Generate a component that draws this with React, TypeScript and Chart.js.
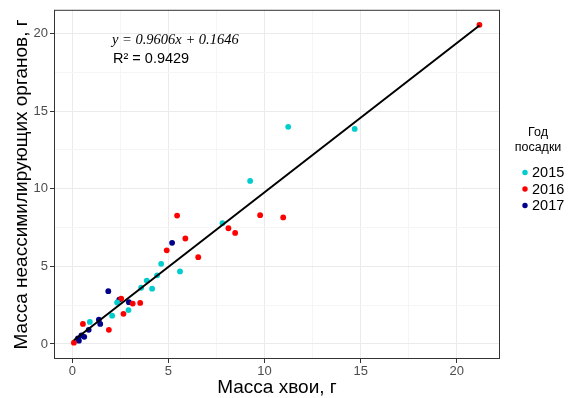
import React, { useEffect, useRef } from "react";
import { Chart, registerables } from "chart.js";
Chart.register(...registerables);

// ---- data ----
const x2015 = [11.23, 14.69, 9.25, 7.81, 4.62, 5.6, 4.41, 3.87, 3.58, 4.15, 2.33, 2.92, 2.07, 0.91];
const y2015 = [13.98, 13.85, 10.5, 7.78, 5.16, 4.67, 4.42, 4.08, 3.62, 3.56, 2.67, 2.18, 1.82, 1.42];

const x2016 = [21.18, 9.77, 10.97, 8.12, 8.47, 5.45, 5.88, 4.91, 6.55, 2.54, 3.14, 3.53, 2.66, 0.55, 1.9, 0.08];
const y2016 = [20.55, 8.29, 8.15, 7.45, 7.15, 8.27, 6.79, 6.03, 5.59, 2.92, 2.6, 2.64, 1.94, 1.29, 0.91, 0.08];

const x2017 = [5.19, 1.87, 2.44, 2.94, 1.38, 1.45, 0.85, 0.47, 0.62, 0.29, 0.34];
const y2017 = [6.51, 3.4, 2.86, 2.69, 1.56, 1.29, 0.91, 0.55, 0.46, 0.36, 0.21];

const fitX = [0.08, 21.18];
const fitY = [0.241, 20.51];

const xTicks = [0, 2.5, 5, 7.5, 10, 12.5, 15, 17.5, 20];
const yTicks = [0, 2.5, 5, 7.5, 10, 12.5, 15, 17.5, 20];

const seriesNames = ["2015", "2016", "2017"];
const seriesColors = ["#00CDCD", "#FF0000", "#00008B"];
const legendTitle = ["Год", "посадки"];
const xTitle = "Масса хвои, г";
const yTitle = "Масса неассимилирующих органов, г";
const equationText = "y = 0.9606x + 0.1646";
const r2Text = "R² = 0.9429";

const SANS = "'Liberation Sans', Arial, sans-serif";
const SERIF = "'Liberation Serif', 'Times New Roman', serif";

const toPts = (xs: number[], ys: number[]) => xs.map((x, i) => ({ x, y: ys[i] }));

export default function App() {
  const ref = useRef<HTMLCanvasElement | null>(null);

  useEffect(() => {
    if (!ref.current) return;
    const isMajor = (v: number) => Math.abs(v % 5) < 1e-9;

    const decor = {
      id: "decor",
      afterDatasetsDraw(chart: any) {
        const { ctx, chartArea: a } = chart;
        ctx.save();
        ctx.strokeStyle = "#333333";
        ctx.lineWidth = 1;
        ctx.strokeRect(a.left + 0.5, a.top + 0.5, a.right - a.left - 1, a.bottom - a.top - 1);
        ctx.restore();
      },
      afterDraw(chart: any) {
        const { ctx, chartArea: a } = chart;
        ctx.save();
        // annotation
        ctx.fillStyle = "#000";
        ctx.textAlign = "left";
        ctx.textBaseline = "alphabetic";
        ctx.font = `italic 14.5px ${SERIF}`;
        ctx.fillText(equationText, 112, 44);
        ctx.font = `14.5px ${SANS}`;
        ctx.fillText(r2Text, 113, 63);

        // axis titles
        ctx.font = `19px ${SANS}`;
        ctx.textAlign = "center";
        ctx.fillText(xTitle, (a.left + a.right) / 2, 393);
        ctx.save();
        ctx.translate(27, (a.top + a.bottom) / 2);
        ctx.rotate(-Math.PI / 2);
        ctx.fillText(yTitle, 0, 0);
        ctx.restore();

        // legend
        ctx.font = `12.5px ${SANS}`;
        ctx.textBaseline = "middle";
        ctx.textAlign = "center";
        ctx.fillText(legendTitle[0], 538, 133);
        ctx.fillText(legendTitle[1], 538, 148);
        ctx.font = `14.5px ${SANS}`;
        ctx.textAlign = "left";
        const ys = [172.5, 189, 205.5];
        seriesNames.forEach((n, i) => {
          ctx.fillStyle = seriesColors[i];
          ctx.beginPath();
          ctx.arc(525, ys[i], 2.7, 0, Math.PI * 2);
          ctx.fill();
          ctx.fillStyle = "#000";
          ctx.fillText(n, 532, ys[i] + 0.5);
        });
        ctx.restore();
      },
    };

    const gridColor = (c: any) => (c.tick && isMajor(c.tick.value) ? "#EBEBEB" : "#F5F5F5");
    const tickColor = (c: any) => (c.tick && isMajor(c.tick.value) ? "#333333" : "rgba(0,0,0,0)");

    const chart = new Chart(ref.current, {
      type: "scatter",
      data: {
        datasets: [
          {
            type: "line",
            label: "fit",
            data: toPts(fitX, fitY),
            borderColor: "#000",
            borderWidth: 2,
            pointRadius: 0,
            fill: false,
            order: 0,
          } as any,
          ...seriesNames.map((n, i) => ({
            label: n,
            data: toPts([x2015, x2016, x2017][i], [y2015, y2016, y2017][i]),
            backgroundColor: seriesColors[i],
            borderWidth: 0,
            pointRadius: 2.9,
            order: 1 + i,
          })),
        ],
      },
      options: {
        responsive: false,
        animation: false,
        layout: { padding: { left: 0, right: 74, top: 4, bottom: 0 } },
        plugins: { legend: { display: false }, tooltip: { enabled: false } },
        scales: {
          x: {
            type: "linear",
            min: -0.955,
            max: 22.25,
            afterBuildTicks: (s: any) => {
              s.ticks = xTicks.map((v) => ({ value: v }));
            },
            afterFit: (s: any) => {
              s.height = 39;
            },
            border: { display: false },
            grid: { color: gridColor, tickColor, tickLength: 4, lineWidth: 1 },
            ticks: {
              autoSkip: false,
              maxRotation: 0,
              padding: 1,
              color: "#4D4D4D",
              font: { family: SANS, size: 13 },
              callback: (v: any) => (isMajor(Number(v)) ? String(v) : ""),
            },
          },
          y: {
            type: "linear",
            min: -0.97,
            max: 21.52,
            afterBuildTicks: (s: any) => {
              s.ticks = yTicks.map((v) => ({ value: v }));
            },
            afterFit: (s: any) => {
              s.width = 54;
            },
            border: { display: false },
            grid: { color: gridColor, tickColor, tickLength: 4, lineWidth: 1 },
            ticks: {
              autoSkip: false,
              padding: 2,
              color: "#4D4D4D",
              font: { family: SANS, size: 13 },
              callback: (v: any) => (isMajor(Number(v)) ? String(v) : ""),
            },
          },
        },
      },
      plugins: [decor],
    } as any);

    return () => chart.destroy();
  }, []);

  return (
    <div style={{ position: "absolute", left: 0, top: 0, width: 574, height: 398, background: "#fff" }}>
      <canvas ref={ref} width={574} height={398} style={{ display: "block" }} />
    </div>
  );
}
